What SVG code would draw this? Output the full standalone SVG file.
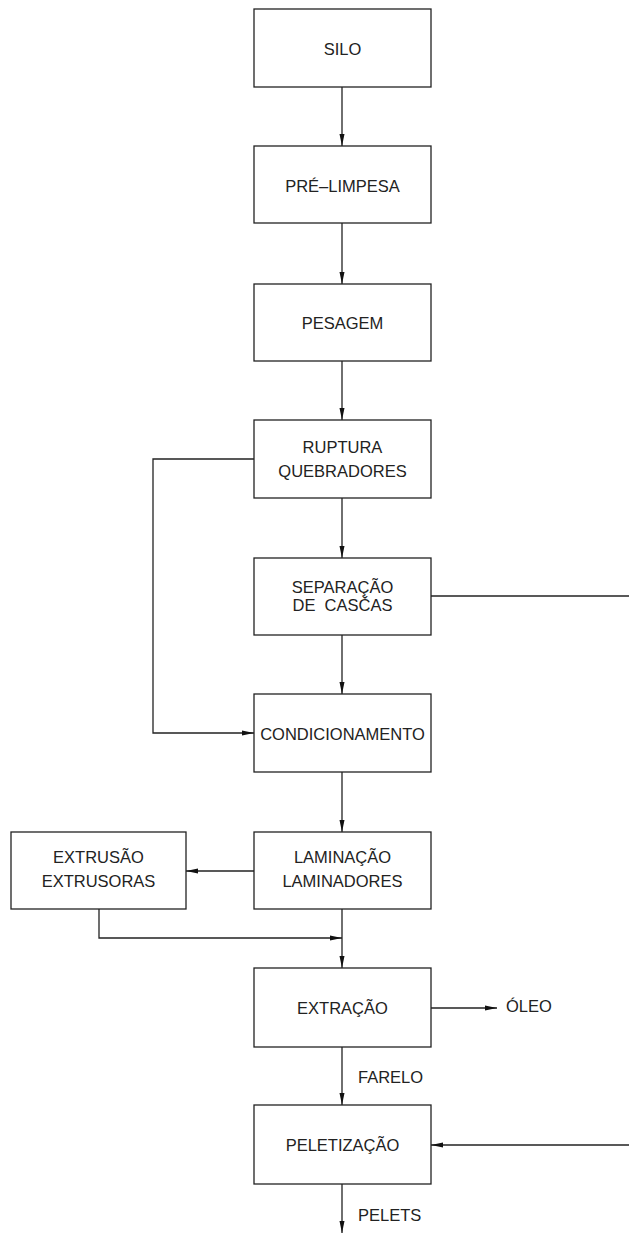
<svg xmlns="http://www.w3.org/2000/svg" width="629" height="1241" viewBox="0 0 629 1241">
<style>
.box{fill:#fff;stroke:#222;stroke-width:1.3}
.t{font-family:"Liberation Sans",Arial,sans-serif;font-size:16.5px;fill:#222;text-anchor:middle}
.l{font-family:"Liberation Sans",Arial,sans-serif;font-size:16.5px;fill:#222}
.c{fill:none;stroke:#222;stroke-width:1.3}
</style>
<defs>
<marker id="ah" markerUnits="userSpaceOnUse" markerWidth="13" markerHeight="6" refX="12" refY="3" orient="auto">
<path d="M0,0.5 L12,3 L0,5.5 z" fill="#111"/>
</marker>
</defs>
<rect width="629" height="1241" fill="#fff"/>
<g id="connectors">
<path class="c" d="M342,87 V146" marker-end="url(#ah)"/>
<path class="c" d="M342,223 V284" marker-end="url(#ah)"/>
<path class="c" d="M342,361 V420" marker-end="url(#ah)"/>
<path class="c" d="M342,498 V558" marker-end="url(#ah)"/>
<path class="c" d="M342,635 V694" marker-end="url(#ah)"/>
<path class="c" d="M254,459 H153 V733 H254" marker-end="url(#ah)"/>
<path class="c" d="M431,596 H629"/>
<path class="c" d="M342,772 V832" marker-end="url(#ah)"/>
<path class="c" d="M254,871 H186" marker-end="url(#ah)"/>
<path class="c" d="M99,909 V938 H342" marker-end="url(#ah)"/>
<path class="c" d="M342,909 V968" marker-end="url(#ah)"/>
<path class="c" d="M431,1008 H497" marker-end="url(#ah)"/>
<path class="c" d="M342,1047 V1105" marker-end="url(#ah)"/>
<path class="c" d="M629,1145 H431" marker-end="url(#ah)"/>
<path class="c" d="M342,1184 V1233" marker-end="url(#ah)"/>
</g>
<g id="silo"><rect class="box" x="254" y="9" width="177" height="78"/><text class="t" x="342.5" y="55">SILO</text></g>
<g id="pre-limpesa"><rect class="box" x="254" y="146" width="177" height="77"/><text class="t" x="342.5" y="192">PRÉ–LIMPESA</text></g>
<g id="pesagem"><rect class="box" x="254" y="284" width="177" height="77"/><text class="t" x="342.5" y="329">PESAGEM</text></g>
<g id="ruptura"><rect class="box" x="254" y="420" width="177" height="78"/><text class="t" x="342.5" y="453">RUPTURA</text><text class="t" x="342.5" y="477">QUEBRADORES</text></g>
<g id="separacao"><rect class="box" x="254" y="558" width="177" height="77"/><text class="t" x="342.5" y="593">SEPARAÇÃO</text><text class="t" x="342.5" y="611" xml:space="preserve">DE  CASČAS</text></g>
<g id="condicionamento"><rect class="box" x="254" y="694" width="177" height="78"/><text class="t" x="342.5" y="740">CONDICIONAMENTO</text></g>
<g id="laminacao"><rect class="box" x="254" y="832" width="177" height="77"/><text class="t" x="342.5" y="863">LAMINAÇÃO</text><text class="t" x="342.5" y="887">LAMINADORES</text></g>
<g id="extrusao"><rect class="box" x="11" y="832" width="175" height="77"/><text class="t" x="98.5" y="863">EXTRUSÃO</text><text class="t" x="98.5" y="887">EXTRUSORAS</text></g>
<g id="extracao"><rect class="box" x="254" y="968" width="177" height="79"/><text class="t" x="342.5" y="1014">EXTRAÇÃO</text></g>
<g id="peletizacao"><rect class="box" x="254" y="1105" width="177" height="79"/><text class="t" x="342.5" y="1151">PELETIZAÇÃO</text></g>
<g id="labels">
<text class="l" x="506" y="1012">ÓLEO</text>
<text class="l" x="358" y="1083">FARELO</text>
<text class="l" x="358" y="1221">PELETS</text>
</g>
</svg>
